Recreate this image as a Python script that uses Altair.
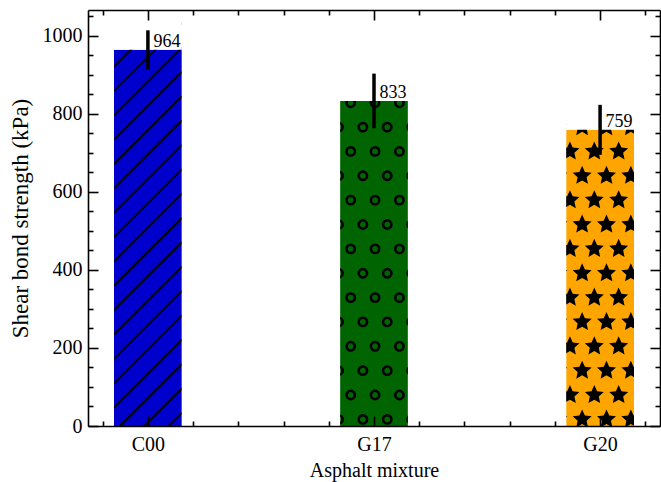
import json
import math
import altair as alt
import pandas as pd

# ---------------- data ----------------
categories = ["C00", "G17", "G20"]
strength = [964, 833, 759]          # kPa
error = [50, 70, 64]                # kPa (half length of error bar)
fill_colors = ["#0000cd", "#006400", "#ffa500"]
hatches = ["/", "o", "*"]

y_major = [0, 200, 400, 600, 800, 1000]
y_minor = [v for v in range(50, 1100, 50) if v % 200]
x_major = [0, 1, 2]
x_minor = [round(-0.2 + 0.2 * i, 1) for i in range(13) if (i - 1) % 5]

# ---------------- layout / style ----------------
W, H = 572, 416
X_DOMAIN = [-0.265, 2.265]
Y_DOMAIN = [0, 1066]
BAR_WIDTH = 0.3
FONT = "Liberation Serif"

S = 24.36          # hatch repeat (px)
HX0, HY0 = 262.7, 92.7   # hatch grid phase (px, from plot top-left)
LINE_C0 = 228.7          # phase of diagonal hatch lines

kx = W / (X_DOMAIN[1] - X_DOMAIN[0])
ky = H / (Y_DOMAIN[1] - Y_DOMAIN[0])


def to_x(px):
    return X_DOMAIN[0] + px / kx


def to_y(py):
    return Y_DOMAIN[1] - py / ky


def to_px(x):
    return (x - X_DOMAIN[0]) * kx


def to_py(y):
    return (Y_DOMAIN[1] - y) * ky


bar_rows = []
for i, (c, v, e) in enumerate(zip(categories, strength, error)):
    bar_rows.append(dict(cat=c, pos=i, x0=i - BAR_WIDTH / 2, x1=i + BAR_WIDTH / 2,
                         value=v, base=0, lo=v - e, hi=v + e))
bars = pd.DataFrame(bar_rows)

dots, stars, lines = [], [], []
for r, h in zip(bar_rows, hatches):
    left, right = to_px(r["x0"]), to_px(r["x1"])
    top, bottom = to_py(r["value"]), H
    if h in "o*":
        for n in range(math.floor((top - HY0) / S) - 1, math.ceil((bottom - HY0) / S) + 2):
            py = HY0 + n * S
            shift = S / 2 if n % 2 else 0
            for k in range(math.floor((left - HX0 - shift) / S) - 1,
                           math.ceil((right - HX0 - shift) / S) + 2):
                px = HX0 + shift + k * S
                if left - S / 2 <= px <= right + S / 2 and top - S / 2 <= py <= bottom + S / 2:
                    (dots if h == "o" else stars).append({"x": to_x(px), "y": to_y(py)})
    else:
        for m in range(math.floor((top + left - LINE_C0) / S) - 1,
                       math.ceil((bottom + right - LINE_C0) / S) + 2):
            c = LINE_C0 + m * S
            if c - right > bottom or c - left < top:
                continue
            lines.append({"x": to_x(left), "y": to_y(c - left),
                          "x2": to_x(right), "y2": to_y(c - right)})

masks = []
edges = [X_DOMAIN[0]] + [v for r in bar_rows for v in (r["x0"], r["x1"])] + [X_DOMAIN[1]]
for a, b in zip(edges[0::2], edges[1::2]):
    masks.append({"x": a, "x2": b, "y": Y_DOMAIN[0], "y2": Y_DOMAIN[1]})
for r in bar_rows:
    masks.append({"x": r["x0"], "x2": r["x1"], "y": r["value"], "y2": Y_DOMAIN[1]})

# star symbol path in unit box
pts = []
for j in range(10):
    rad = 1.0 if j % 2 == 0 else 0.47
    ang = -math.pi / 2 + j * math.pi / 5
    pts.append(f"{rad * math.cos(ang):.4f},{rad * math.sin(ang):.4f}")
STAR = "M" + "L".join(pts) + "Z"

xs = alt.Scale(domain=X_DOMAIN, nice=False, zero=False)
ys = alt.Scale(domain=Y_DOMAIN, nice=False, zero=False)


def tick_axis(orient, offset, values, size, domain):
    return alt.Axis(orient=orient, offset=offset, values=values, tickSize=size,
                    labels=False, grid=False, domain=domain, domainColor="black",
                    domainWidth=1.6, tickColor="black", tickWidth=1.6, zindex=2)


label_x_axis = alt.Axis(orient="bottom", values=x_major,
                        labelExpr=json.dumps(categories) + "[datum.value]",
                        ticks=False, tickSize=0, domain=False, grid=False,
                        labelFont=FONT, labelFontSize=20, labelColor="black", labelPadding=8,
                        titleFont=FONT, titleFontSize=20, titleFontWeight="normal",
                        titleColor="black", titlePadding=6)
label_y_axis = alt.Axis(orient="left", values=y_major, format="d", ticks=False, tickSize=0,
                        domain=False, grid=False,
                        labelFont=FONT, labelFontSize=20, labelColor="black", labelPadding=6,
                        titleFont=FONT, titleFontSize=23, titleFontWeight="normal",
                        titleColor="black", titlePadding=10)

bar_layer = alt.Chart(bars).mark_rect().encode(
    x=alt.X("x0:Q", scale=xs, axis=label_x_axis, title="Asphalt mixture"),
    x2="x1:Q",
    y=alt.Y("value:Q", scale=ys, axis=label_y_axis, title="Shear bond strength (kPa)"),
    y2="base:Q",
    color=alt.Color("cat:N", scale=alt.Scale(domain=categories, range=fill_colors), legend=None),
)

line_layer = alt.Chart(pd.DataFrame(lines)).mark_rule(
    color="black", strokeWidth=2, clip=True
).encode(
    x=alt.X("x:Q", scale=xs, axis=tick_axis("top", -H, x_major, 10, True), title=None),
    x2="x2:Q",
    y=alt.Y("y:Q", scale=ys, axis=tick_axis("right", -W, y_major, 10, True), title=None),
    y2="y2:Q",
)

dot_layer = alt.Chart(pd.DataFrame(dots)).mark_point(
    shape="circle", filled=False, size=70, strokeWidth=2.5, color="black", opacity=1, clip=True
).encode(
    x=alt.X("x:Q", scale=xs, axis=tick_axis("top", -H, x_minor, 5, False), title=None),
    y=alt.Y("y:Q", scale=ys, axis=tick_axis("right", -W, y_minor, 5, False), title=None),
)

star_layer = alt.Chart(pd.DataFrame(stars)).mark_point(
    shape=STAR, filled=True, size=400, color="black", opacity=1, strokeWidth=0, clip=True
).encode(
    x=alt.X("x:Q", scale=xs, axis=tick_axis("bottom", -H, x_major, 10, True), title=None),
    y=alt.Y("y:Q", scale=ys, axis=tick_axis("left", -W, y_major, 10, True), title=None),
)

mask_layer = alt.Chart(pd.DataFrame(masks)).mark_rect(color="white").encode(
    x=alt.X("x:Q", scale=xs, axis=tick_axis("bottom", -H, x_minor, 5, False), title=None),
    x2="x2:Q",
    y=alt.Y("y:Q", scale=ys, axis=tick_axis("left", -W, y_minor, 5, False), title=None),
    y2="y2:Q",
)

err_layer = alt.Chart(bars).mark_rule(color="black", strokeWidth=3.5).encode(
    x=alt.X("pos:Q", scale=xs, axis=None),
    y=alt.Y("lo:Q", scale=ys, axis=None),
    y2="hi:Q",
)

text_layer = alt.Chart(bars).mark_text(
    align="left", baseline="alphabetic", dx=5.5, dy=-3,
    font=FONT, fontSize=18, color="black"
).encode(
    x=alt.X("pos:Q", scale=xs, axis=None),
    y=alt.Y("value:Q", scale=ys, axis=None),
    text=alt.Text("value:Q", format="d"),
)

chart = alt.layer(
    bar_layer, line_layer, dot_layer, star_layer, mask_layer, err_layer, text_layer
).resolve_axis(
    x="independent", y="independent"
).properties(
    width=W, height=H,
    autosize=alt.AutoSizeParams(type="none"),
    padding={"left": 88, "top": 10, "right": 1, "bottom": 56},
    background="white",
).configure_view(stroke=None)

chart.save("out.html", embed_options={"renderer": "svg", "actions": False})
